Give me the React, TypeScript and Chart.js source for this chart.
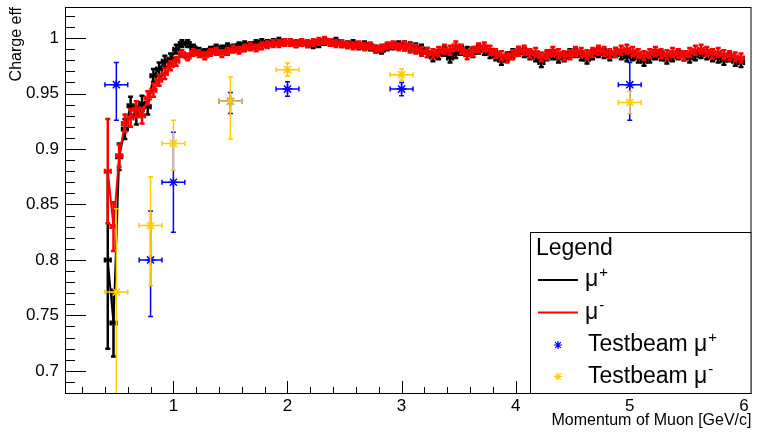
import React, { useEffect, useRef } from 'react';
import { Chart, registerables } from 'chart.js';

Chart.register(...registerables);

// ---------------- data ----------------
const momentum = [
  0.425, 0.475, 0.525, 0.575, 0.625, 0.675, 0.725, 0.775, 0.825, 0.875,
  0.925, 0.975, 1.025, 1.075, 1.125, 1.175, 1.225, 1.275, 1.325, 1.375,
  1.425, 1.475, 1.525, 1.575, 1.625, 1.675, 1.725, 1.775, 1.825, 1.875,
  1.925, 1.975, 2.025, 2.075, 2.125, 2.175, 2.225, 2.275, 2.325, 2.375,
  2.425, 2.475, 2.525, 2.575, 2.625, 2.675, 2.725, 2.775, 2.825, 2.875,
  2.925, 2.975, 3.025, 3.075, 3.125, 3.175, 3.225, 3.275, 3.325, 3.375,
  3.425, 3.475, 3.525, 3.575, 3.625, 3.675, 3.725, 3.775, 3.825, 3.875,
  3.925, 3.975, 4.025, 4.075, 4.125, 4.175, 4.225, 4.275, 4.325, 4.375,
  4.425, 4.475, 4.525, 4.575, 4.625, 4.675, 4.725, 4.775, 4.825, 4.875,
  4.925, 4.975, 5.025, 5.075, 5.125, 5.175, 5.225, 5.275, 5.325, 5.375,
  5.425, 5.475, 5.525, 5.575, 5.625, 5.675, 5.725, 5.775, 5.825, 5.875,
  5.925, 5.975,
];
const binHalfWidth = 0.025;

const effMuPlus = [
  0.800, 0.743, 0.893, 0.918, 0.939, 0.930, 0.941, 0.938, 0.966, 0.972,
  0.979, 0.981, 0.990, 0.995, 0.995, 0.991, 0.988, 0.987, 0.989, 0.991,
  0.990, 0.992, 0.991, 0.993, 0.994, 0.993, 0.995, 0.996, 0.995, 0.996,
  0.997, 0.996, 0.996, 0.995, 0.996, 0.995, 0.994, 0.995, 0.997, 0.996,
  0.997, 0.995, 0.994, 0.995, 0.993, 0.994, 0.992, 0.990, 0.989, 0.992,
  0.993, 0.994, 0.993, 0.992, 0.991, 0.990, 0.987, 0.983, 0.985, 0.988,
  0.982, 0.986, 0.989, 0.988, 0.987, 0.990, 0.989, 0.986, 0.984, 0.980,
  0.983, 0.986, 0.988, 0.987, 0.985, 0.983, 0.978, 0.984, 0.985, 0.982,
  0.983, 0.986, 0.987, 0.984, 0.981, 0.985, 0.987, 0.986, 0.984, 0.987,
  0.985, 0.983, 0.984, 0.982, 0.979, 0.982, 0.985, 0.984, 0.981, 0.983,
  0.985, 0.984, 0.982, 0.984, 0.986, 0.985, 0.983, 0.982, 0.980, 0.983,
  0.979, 0.978,
];
const errMuPlus = [
  0.080, 0.030, 0.012, 0.009, 0.008, 0.008, 0.007, 0.007, 0.006, 0.006,
  0.005, 0.005, 0.004, 0.003, 0.003, 0.003, 0.003, 0.003, 0.003, 0.003,
  0.003, 0.003, 0.003, 0.003, 0.003, 0.003, 0.003, 0.003, 0.003, 0.003,
  0.003, 0.003, 0.003, 0.003, 0.003, 0.003, 0.003, 0.003, 0.003, 0.003,
  0.003, 0.003, 0.003, 0.003, 0.003, 0.003, 0.003, 0.003, 0.003, 0.003,
  0.003, 0.003, 0.004, 0.004, 0.004, 0.004, 0.004, 0.004, 0.004, 0.004,
  0.004, 0.004, 0.004, 0.004, 0.004, 0.004, 0.004, 0.004, 0.004, 0.004,
  0.004, 0.004, 0.004, 0.004, 0.004, 0.004, 0.004, 0.004, 0.004, 0.004,
  0.004, 0.004, 0.004, 0.004, 0.004, 0.004, 0.004, 0.004, 0.004, 0.004,
  0.004, 0.004, 0.004, 0.004, 0.004, 0.004, 0.004, 0.004, 0.004, 0.004,
  0.004, 0.004, 0.004, 0.004, 0.004, 0.004, 0.004, 0.004, 0.004, 0.004,
  0.004, 0.004,
];

const effMuMinus = [
  0.880, 0.830, 0.894, 0.923, 0.928, 0.936, 0.930, 0.946, 0.953, 0.962,
  0.968, 0.975, 0.979, 0.986, 0.983, 0.987, 0.986, 0.984, 0.987, 0.988,
  0.986, 0.988, 0.990, 0.989, 0.991, 0.992, 0.991, 0.993, 0.994, 0.995,
  0.995, 0.996, 0.996, 0.995, 0.996, 0.995, 0.996, 0.997, 0.998, 0.996,
  0.995, 0.995, 0.994, 0.993, 0.994, 0.992, 0.993, 0.990, 0.991, 0.993,
  0.994, 0.992, 0.993, 0.991, 0.990, 0.988, 0.987, 0.986, 0.988, 0.990,
  0.989, 0.993, 0.990, 0.985, 0.988, 0.991, 0.992, 0.989, 0.986, 0.984,
  0.982, 0.985, 0.988, 0.989, 0.986, 0.987, 0.983, 0.985, 0.988, 0.986,
  0.984, 0.985, 0.988, 0.987, 0.985, 0.987, 0.989, 0.988, 0.986, 0.987,
  0.989, 0.990, 0.988, 0.986, 0.984, 0.986, 0.988, 0.986, 0.985, 0.987,
  0.986, 0.984, 0.987, 0.989, 0.990, 0.988, 0.986, 0.987, 0.985, 0.984,
  0.983, 0.982,
];
const errMuMinus = [
  0.047, 0.022, 0.010, 0.008, 0.008, 0.007, 0.007, 0.006, 0.006, 0.005,
  0.005, 0.004, 0.004, 0.003, 0.003, 0.003, 0.003, 0.003, 0.003, 0.003,
  0.003, 0.003, 0.003, 0.003, 0.003, 0.003, 0.003, 0.003, 0.003, 0.003,
  0.003, 0.003, 0.003, 0.003, 0.003, 0.003, 0.003, 0.003, 0.003, 0.003,
  0.003, 0.003, 0.003, 0.003, 0.003, 0.003, 0.003, 0.003, 0.003, 0.003,
  0.003, 0.003, 0.004, 0.004, 0.004, 0.004, 0.004, 0.004, 0.004, 0.004,
  0.004, 0.004, 0.004, 0.004, 0.004, 0.004, 0.004, 0.004, 0.004, 0.004,
  0.004, 0.004, 0.004, 0.004, 0.004, 0.004, 0.004, 0.004, 0.004, 0.004,
  0.004, 0.004, 0.004, 0.004, 0.004, 0.004, 0.004, 0.004, 0.004, 0.004,
  0.004, 0.004, 0.004, 0.004, 0.004, 0.004, 0.004, 0.004, 0.004, 0.004,
  0.004, 0.004, 0.004, 0.004, 0.004, 0.004, 0.004, 0.004, 0.004, 0.004,
  0.004, 0.004,
];

const tbMomentum = [0.5, 0.8, 1.0, 1.5, 2.0, 3.0, 5.0];
const tbMomentumErr = [0.1, 0.1, 0.1, 0.1, 0.1, 0.1, 0.1];

const tbEffMuPlus = [0.958, 0.800, 0.870, 0.943, 0.954, 0.954, 0.958];
const tbErrUpMuPlus = [0.020, 0.044, 0.045, 0.008, 0.0065, 0.006, 0.020];
const tbErrDownMuPlus = [0.032, 0.051, 0.045, 0.011, 0.0065, 0.006, 0.032];

const tbEffMuMinus = [0.771, 0.831, 0.905, 0.943, 0.9715, 0.967, 0.942];
const tbErrUpMuMinus = [0.075, 0.044, 0.021, 0.022, 0.006, 0.005, 0.010];
const tbErrDownMuMinus = [0.120, 0.054, 0.024, 0.034, 0.006, 0.005, 0.010];

const xTickValues = [1, 2, 3, 4, 5, 6];
const xTickLabels = ['1', '2', '3', '4', '5', '6'];
const yTickValues = [0.7, 0.75, 0.8, 0.85, 0.9, 0.95, 1.0];
const yTickLabels = ['0.7', '0.75', '0.8', '0.85', '0.9', '0.95', '1'];

const xTitle = 'Momentum of Muon [GeV/c]';
const yTitle = 'Charge eff';
const legendTitle = 'Legend';
const legendEntries = [
  { kind: 'line', color: '#000000', text: '', sym: 'μ', sup: '+' },
  { kind: 'line', color: '#ff0000', text: '', sym: 'μ', sup: '-' },
  { kind: 'star', color: '#0000ff', text: 'Testbeam ', sym: 'μ', sup: '+' },
  { kind: 'star', color: '#ffcc00', text: 'Testbeam ', sym: 'μ', sup: '-' },
];

const FONT = "'Liberation Sans', Arial, Helvetica, sans-serif";

// ---------------- plugins ----------------
const errorBarPlugin = {
  id: 'errorBars',
  afterDatasetDraw(chart: any, args: any) {
    const ds: any = chart.data.datasets[args.index];
    if (!ds.errUp) return;
    const { ctx, chartArea: a } = chart;
    const xs = chart.scales.x;
    const ys = chart.scales.y;
    ctx.save();
    ctx.beginPath();
    ctx.rect(a.left, a.top, a.right - a.left, a.bottom - a.top);
    ctx.clip();
    ctx.strokeStyle = ds.borderColor;
    ctx.lineWidth = ds.errWidth;
    const c = ds.capSize;
    ds.data.forEach((p: any, i: number) => {
      const px = xs.getPixelForValue(p.x);
      const py = ys.getPixelForValue(p.y);
      const x0 = xs.getPixelForValue(p.x - ds.errX[i]);
      const x1 = xs.getPixelForValue(p.x + ds.errX[i]);
      const y0 = ys.getPixelForValue(p.y + ds.errUp[i]);
      const y1 = ys.getPixelForValue(p.y - ds.errDown[i]);
      ctx.beginPath();
      ctx.moveTo(x0, py); ctx.lineTo(x1, py);
      ctx.moveTo(px, y0); ctx.lineTo(px, y1);
      ctx.moveTo(x0, py - c); ctx.lineTo(x0, py + c);
      ctx.moveTo(x1, py - c); ctx.lineTo(x1, py + c);
      ctx.moveTo(px - c, y0); ctx.lineTo(px + c, y0);
      ctx.moveTo(px - c, y1); ctx.lineTo(px + c, y1);
      ctx.stroke();
    });
    ctx.restore();
  },
};

function drawStar(ctx: CanvasRenderingContext2D, x: number, y: number, r: number) {
  const d = r * Math.SQRT1_2;
  ctx.beginPath();
  ctx.moveTo(x - r, y); ctx.lineTo(x + r, y);
  ctx.moveTo(x, y - r); ctx.lineTo(x, y + r);
  ctx.moveTo(x - d, y - d); ctx.lineTo(x + d, y + d);
  ctx.moveTo(x - d, y + d); ctx.lineTo(x + d, y - d);
  ctx.stroke();
}

const framePlugin = {
  id: 'frameAndLegend',
  afterDraw(chart: any) {
    const { ctx, chartArea: a } = chart;
    const xs = chart.scales.x;
    const ys = chart.scales.y;
    ctx.save();
    ctx.strokeStyle = '#000';
    ctx.lineWidth = 1;
    // y ticks (inside frame)
    ctx.beginPath();
    for (let k = 69; k <= 102; k++) {
      const v = k / 100;
      const py = Math.round(ys.getPixelForValue(v)) + 0.5;
      if (py < a.top || py > a.bottom) continue;
      const major = k % 5 === 0;
      ctx.moveTo(a.left, py);
      ctx.lineTo(a.left + (major ? 21 : 10), py);
    }
    // x ticks
    for (let k = 1; k <= 30; k++) {
      const v = k / 5;
      const px = Math.round(xs.getPixelForValue(v)) + 0.5;
      if (px < a.left || px > a.right) continue;
      const major = k % 5 === 0;
      ctx.moveTo(px, a.bottom);
      ctx.lineTo(px, a.bottom - (major ? 12 : 6));
    }
    ctx.stroke();
    // frame
    ctx.strokeRect(a.left + 0.5, a.top + 0.5, a.right - a.left - 1, a.bottom - a.top);

    // axis titles
    ctx.fillStyle = '#000';
    ctx.font = `16px ${FONT}`;
    ctx.textAlign = 'right';
    ctx.textBaseline = 'alphabetic';
    ctx.fillText(xTitle, a.right, 425);
    ctx.save();
    ctx.translate(21, a.top);
    ctx.rotate(-Math.PI / 2);
    ctx.textAlign = 'right';
    ctx.fillText(yTitle, 0, 0);
    ctx.restore();

    // legend
    const lx = 530, ly = 232;
    ctx.fillStyle = '#fff';
    ctx.fillRect(lx, ly, a.right - lx, a.bottom - ly);
    ctx.strokeStyle = '#000';
    ctx.strokeRect(lx + 0.5, ly + 0.5, a.right - lx - 1, a.bottom - ly);
    ctx.fillStyle = '#000';
    ctx.textAlign = 'left';
    ctx.font = `23px ${FONT}`;
    ctx.fillText(legendTitle, 536, 255);
    const rows = [280, 312.5, 345, 376.5];
    legendEntries.forEach((e, i) => {
      const ry = rows[i];
      ctx.strokeStyle = e.color;
      if (e.kind === 'line') {
        ctx.lineWidth = 2;
        ctx.beginPath();
        ctx.moveTo(538, ry); ctx.lineTo(578, ry);
        ctx.stroke();
      } else {
        ctx.lineWidth = 1.2;
        drawStar(ctx, 558, ry, 4);
      }
      let tx = e.kind === 'line' ? 585 : 588;
      ctx.fillStyle = '#000';
      ctx.font = `23px ${FONT}`;
      if (e.text) {
        ctx.fillText(e.text, tx, ry + 6);
        tx += ctx.measureText(e.text).width;
      }
      ctx.fillText(e.sym, tx, ry + 6);
      tx += ctx.measureText(e.sym).width + 1;
      ctx.font = `15px ${FONT}`;
      ctx.fillText(e.sup, tx, ry - 3);
    });
    ctx.restore();
  },
};

// ---------------- component ----------------
export default function App() {
  const ref = useRef<HTMLCanvasElement | null>(null);

  useEffect(() => {
    if (!ref.current) return;
    Chart.defaults.font.family = FONT;
    Chart.defaults.color = '#000';

    const curve = (vals: number[], errs: number[], color: string, order: number) => ({
      type: 'scatter',
      data: momentum.map((m, i) => ({ x: m, y: vals[i] })),
      showLine: true,
      borderColor: color,
      backgroundColor: color,
      borderWidth: 2,
      pointRadius: 0,
      tension: 0,
      order,
      errX: momentum.map(() => binHalfWidth),
      errUp: errs,
      errDown: errs,
      errWidth: 2.5,
      capSize: 2.5,
    });
    const beam = (vals: number[], up: number[], down: number[], color: string, order: number) => ({
      type: 'scatter',
      data: tbMomentum.map((m, i) => ({ x: m, y: vals[i] })),
      showLine: false,
      borderColor: color,
      backgroundColor: color,
      pointStyle: 'star',
      pointRadius: 5,
      pointBorderWidth: 1.5,
      order,
      errX: tbMomentumErr,
      errUp: up,
      errDown: down,
      errWidth: 1.5,
      capSize: 2.5,
    });

    const chart = new Chart(ref.current, {
      type: 'scatter',
      data: {
        datasets: [
          curve(effMuPlus, errMuPlus, '#000000', 4),
          curve(effMuMinus, errMuMinus, '#ff0000', 3),
          beam(tbEffMuPlus, tbErrUpMuPlus, tbErrDownMuPlus, '#0000ff', 2),
          beam(tbEffMuMinus, tbErrUpMuMinus, tbErrDownMuMinus, '#ffcc00', 1),
        ] as any,
      },
      options: {
        animation: false,
        responsive: false,
        devicePixelRatio: 1,
        layout: { padding: { top: 7, right: 1, left: 0, bottom: 0 } },
        plugins: { legend: { display: false }, tooltip: { enabled: false } },
        scales: {
          x: {
            type: 'linear',
            min: 0.05,
            max: 6.067,
            afterBuildTicks: (s: any) => { s.ticks = xTickValues.map((v) => ({ value: v })); },
            afterFit: (s: any) => { s.height = 39; s.paddingLeft = 0; s.paddingRight = 0; },
            grid: { display: false, drawTicks: false },
            border: { display: false },
            ticks: {
              padding: 3,
              color: '#000',
              font: { size: 17 },
              autoSkip: false,
              maxRotation: 0,
              callback: (_v: any, i: number) => xTickLabels[i],
            },
          },
          y: {
            type: 'linear',
            min: 0.68,
            max: 1.028,
            afterBuildTicks: (s: any) => { s.ticks = yTickValues.map((v) => ({ value: v })); },
            afterFit: (s: any) => { s.width = 65; s.paddingTop = 0; s.paddingBottom = 0; },
            grid: { display: false, drawTicks: false },
            border: { display: false },
            ticks: {
              padding: 6,
              color: '#000',
              font: { size: 17 },
              autoSkip: false,
              callback: (_v: any, i: number) => yTickLabels[i],
            },
          },
        },
      } as any,
      plugins: [errorBarPlugin, framePlugin],
    });
    return () => chart.destroy();
  }, []);

  return (
    <div style={{ position: 'fixed', left: 0, top: 0, width: 758, height: 432, background: '#fff' }}>
      <canvas ref={ref} width={758} height={432} style={{ display: 'block' }} />
    </div>
  );
}
